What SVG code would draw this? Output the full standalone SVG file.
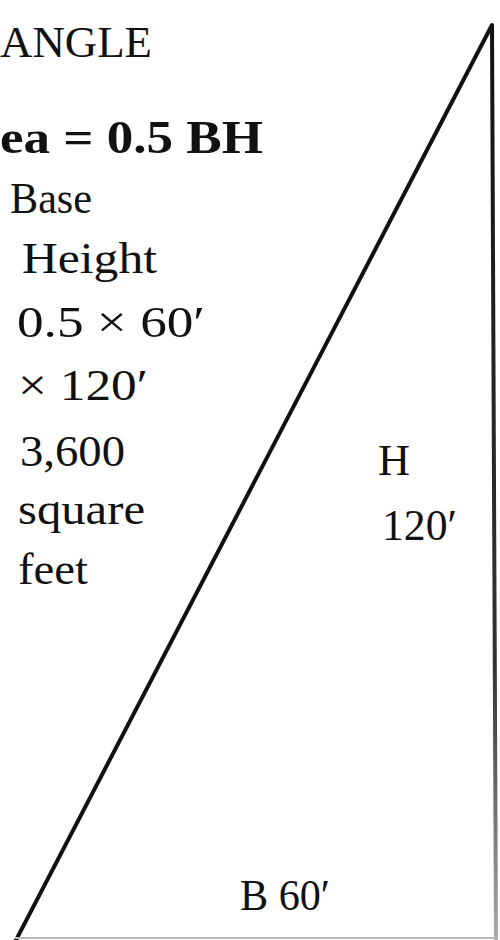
<svg xmlns="http://www.w3.org/2000/svg" width="500" height="940" viewBox="0 0 500 940">
  <style>
    .t { font-family: "Liberation Serif", "DejaVu Serif", serif; fill: #111; font-size: 44px; }
    .b { font-weight: bold; font-size: 46px; }
    .edge { stroke: #111; stroke-width: 4; fill: none; stroke-linecap: round; }
  </style>
  <defs>
    <linearGradient id="vg" gradientUnits="userSpaceOnUse" x1="0" y1="25" x2="0" y2="940">
      <stop offset="0" stop-color="#111"/>
      <stop offset="0.7" stop-color="#333"/>
      <stop offset="1" stop-color="#aaa"/>
    </linearGradient>
  </defs>
  <rect width="500" height="940" fill="#fff"/>

  <g id="triangle">
    <line class="edge" x1="492" y1="25" x2="15" y2="942"/>
    <line x1="492" y1="25" x2="496" y2="940" stroke="url(#vg)" stroke-width="4"/>
    <line x1="15" y1="938" x2="497" y2="938" stroke="#bbb" stroke-width="2"/>
  </g>

  <g id="title">
    <text class="t" x="0" y="57" textLength="152" lengthAdjust="spacingAndGlyphs">ANGLE</text>
  </g>

  <g id="formula">
    <text class="t b" x="0" y="153" textLength="263" lengthAdjust="spacingAndGlyphs">ea = 0.5 BH</text>
  </g>

  <g id="calc">
    <text class="t" x="10" y="213" textLength="82" lengthAdjust="spacingAndGlyphs">Base</text>
    <text class="t" x="22" y="273" textLength="135" lengthAdjust="spacingAndGlyphs">Height</text>
    <text class="t" x="17" y="337" textLength="188" lengthAdjust="spacingAndGlyphs">0.5 × 60′</text>
    <text class="t" x="18" y="400" textLength="130" lengthAdjust="spacingAndGlyphs">× 120′</text>
    <text class="t" x="20" y="466" textLength="105" lengthAdjust="spacingAndGlyphs">3,600</text>
    <text class="t" x="18" y="524" textLength="127" lengthAdjust="spacingAndGlyphs">square</text>
    <text class="t" x="18" y="584" textLength="70" lengthAdjust="spacingAndGlyphs">feet</text>
  </g>

  <g id="height-label">
    <text class="t" x="378" y="475" textLength="32" lengthAdjust="spacingAndGlyphs">H</text>
    <text class="t" x="382" y="540" textLength="75" lengthAdjust="spacingAndGlyphs">120′</text>
  </g>

  <g id="base-label">
    <text class="t" x="240" y="910" textLength="90" lengthAdjust="spacingAndGlyphs">B 60′</text>
  </g>
</svg>
